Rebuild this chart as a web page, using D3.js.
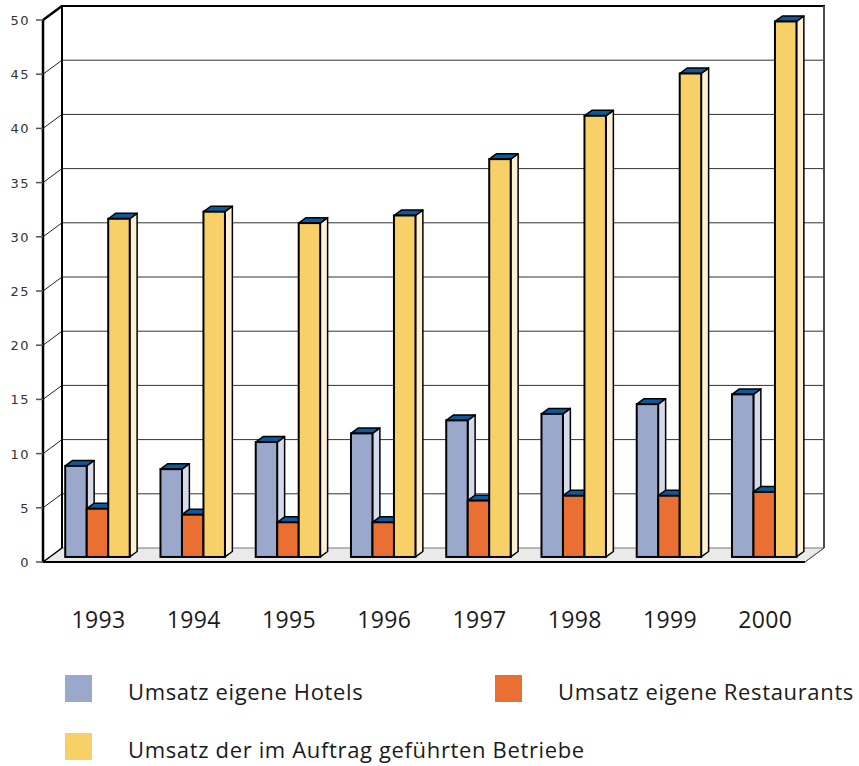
<!DOCTYPE html>
<html lang="de">
<head>
  <meta charset="UTF-8">
  <title>Umsatz 1993-2000</title>
  <script src="https://d3js.org/d3.v7.min.js"></script>
  <style>
    body { margin: 0; background: #fff; }
    .tick-label { font-family: "DejaVu Sans", sans-serif; font-size: 13px; letter-spacing: 1.5px; fill: #333; }
    .year { font-family: "Open Sans", sans-serif; font-size: 23px; letter-spacing: 0.3px; fill: #1a1a1a; }
    .legend text { font-family: "Open Sans", sans-serif; font-size: 22px; letter-spacing: 0.65px; fill: #1a1a1a; }
  </style>
</head>
<body>
<div id="chart"></div>
<script>
// data
const years = ["1993", "1994", "1995", "1996", "1997", "1998", "1999", "2000"];
const seriesNames = ["Umsatz eigene Hotels", "Umsatz eigene Restaurants", "Umsatz der im Auftrag geführten Betriebe"];
const hotels      = [8.4, 8.1, 10.6, 11.4, 12.6, 13.2, 14.1, 15.0];
const restaurants = [4.45, 3.9, 3.2, 3.2, 5.2, 5.65, 5.65, 6.0];
const managed     = [31.2, 31.85, 30.8, 31.5, 36.7, 40.7, 44.6, 49.4];
const yTicks = [0, 5, 10, 15, 20, 25, 30, 35, 40, 45, 50];

const colors = {
  front: ["#9aa8cb", "#e96f32", "#f7d068"],
  side:  ["#d6dbeb", "#f3b894", "#fdf0d3"],
  top:   "#0a5a9c"
};

const width = 859, height = 766;
const svg = d3.select("#chart").append("svg")
  .attr("width", width).attr("height", height);

// 3d box: front plane + depth offset
const x0 = 43, x1 = 805;
const depthX = 19, depthY = -14;
const y = d3.scaleLinear().domain([0, 50]).range([562, 20]);

const xBand = d3.scaleBand().domain(years).range([x0, x1])
  .paddingInner(0.323).paddingOuter(0.1615);
const xSeries = d3.scaleBand().domain([0, 1, 2]).range([0, xBand.bandwidth()]);

// bars sit a bit inside the box
const barZ = 0.36, barDepth = 0.39;
const bx = depthX * barZ, by = depthY * barZ;
const bdx = depthX * barDepth, bdy = depthY * barDepth;

// floor
svg.append("polygon")
  .attr("points", [[x0, y(0)], [x1, y(0)], [x1 + depthX, y(0) + depthY], [x0 + depthX, y(0) + depthY]].join(" "))
  .attr("fill", "#eaeaea").attr("stroke", "#777").attr("stroke-width", 1);

// back wall gridlines
const g = svg.append("g");
g.selectAll(".grid").data(yTicks.slice(1, -1)).enter().append("line")
  .attr("x1", x0 + depthX).attr("x2", x1 + depthX)
  .attr("y1", d => y(d) + depthY).attr("y2", d => y(d) + depthY)
  .attr("stroke", "#333").attr("stroke-width", 1);

// left wall diagonals
g.selectAll(".diag").data(yTicks.slice(1, -1)).enter().append("line")
  .attr("x1", x0).attr("x2", x0 + depthX)
  .attr("y1", d => y(d)).attr("y2", d => y(d) + depthY)
  .attr("stroke", "#222").attr("stroke-width", 1);

// back wall frame
svg.append("path")
  .attr("d", `M${x0 + depthX},${y(0) + depthY}V${y(50) + depthY}H${x1 + depthX}V${y(0) + depthY}`)
  .attr("fill", "none").attr("stroke", "#000").attr("stroke-width", 2);
svg.append("line")
  .attr("x1", x1 + depthX).attr("x2", x1 + depthX)
  .attr("y1", y(50) + depthY).attr("y2", y(0) + depthY)
  .attr("stroke", "#666").attr("stroke-width", 1.5);

// bars
const series = [hotels, restaurants, managed];
years.forEach((yr, i) => {
  series.forEach((vals, s) => {
    const xl = xBand(yr) + xSeries(s) + bx;
    const xr = xl + xSeries.bandwidth();
    const yb = y(0) + by;
    const yt = y(vals[i]) + by;
    const bar = svg.append("g");
    bar.append("polygon")
      .attr("points", [[xr, yt], [xr + bdx, yt + bdy], [xr + bdx, yb + bdy], [xr, yb]].join(" "))
      .attr("fill", colors.side[s]).attr("stroke", "#000").attr("stroke-width", 1.5)
      .attr("stroke-linejoin", "round");
    bar.append("polygon")
      .attr("points", [[xl, yt], [xl + bdx, yt + bdy], [xr + bdx, yt + bdy], [xr, yt]].join(" "))
      .attr("fill", colors.top).attr("stroke", "#000").attr("stroke-width", 1.5)
      .attr("stroke-linejoin", "round");
    bar.append("rect")
      .attr("x", xl).attr("y", yt)
      .attr("width", xr - xl).attr("height", yb - yt)
      .attr("fill", colors.front[s]).attr("stroke", "#000").attr("stroke-width", 2);
  });
});

// front axis, floor front edge, top diagonal
svg.append("line")
  .attr("x1", x0).attr("x2", x0).attr("y1", y(50)).attr("y2", y(0))
  .attr("stroke", "#000").attr("stroke-width", 2.5);
svg.append("line")
  .attr("x1", x0).attr("x2", x1).attr("y1", y(0)).attr("y2", y(0))
  .attr("stroke", "#000").attr("stroke-width", 2);
svg.append("line")
  .attr("x1", x0).attr("x2", x0 + depthX).attr("y1", y(50)).attr("y2", y(50) + depthY)
  .attr("stroke", "#000").attr("stroke-width", 2.5);
svg.append("line")
  .attr("x1", x0).attr("x2", x0 + depthX).attr("y1", y(0)).attr("y2", y(0) + depthY)
  .attr("stroke", "#000").attr("stroke-width", 1.5);
svg.append("line")
  .attr("x1", x1).attr("x2", x1 + depthX).attr("y1", y(0)).attr("y2", y(0) + depthY)
  .attr("stroke", "#555").attr("stroke-width", 1);

// y ticks
const ticks = svg.append("g");
ticks.selectAll("line").data(yTicks).enter().append("line")
  .attr("x1", x0 - 7).attr("x2", x0).attr("y1", d => y(d)).attr("y2", d => y(d))
  .attr("stroke", "#555").attr("stroke-width", 1.5);
ticks.selectAll("text").data(yTicks).enter().append("text")
  .attr("class", "tick-label")
  .attr("x", 30).attr("y", d => y(d) + 5)
  .attr("text-anchor", "end")
  .text(d => d);

// year labels
svg.selectAll(".year").data(years).enter().append("text")
  .attr("class", "year")
  .attr("x", d => xBand(d) + xBand.bandwidth() / 2 + bx + 1)
  .attr("y", 628)
  .attr("text-anchor", "middle")
  .text(d => d);

// legend
const legendPos = [[65, 675], [495, 675], [65, 733]];
const legend = svg.append("g").attr("class", "legend");
seriesNames.forEach((name, s) => {
  const [lx, ly] = legendPos[s];
  legend.append("rect").attr("x", lx).attr("y", ly).attr("width", 27).attr("height", 27)
    .attr("fill", colors.front[s]);
  legend.append("text").attr("x", lx + 63).attr("y", ly + 25).text(name);
});
</script>
</body>
</html>
